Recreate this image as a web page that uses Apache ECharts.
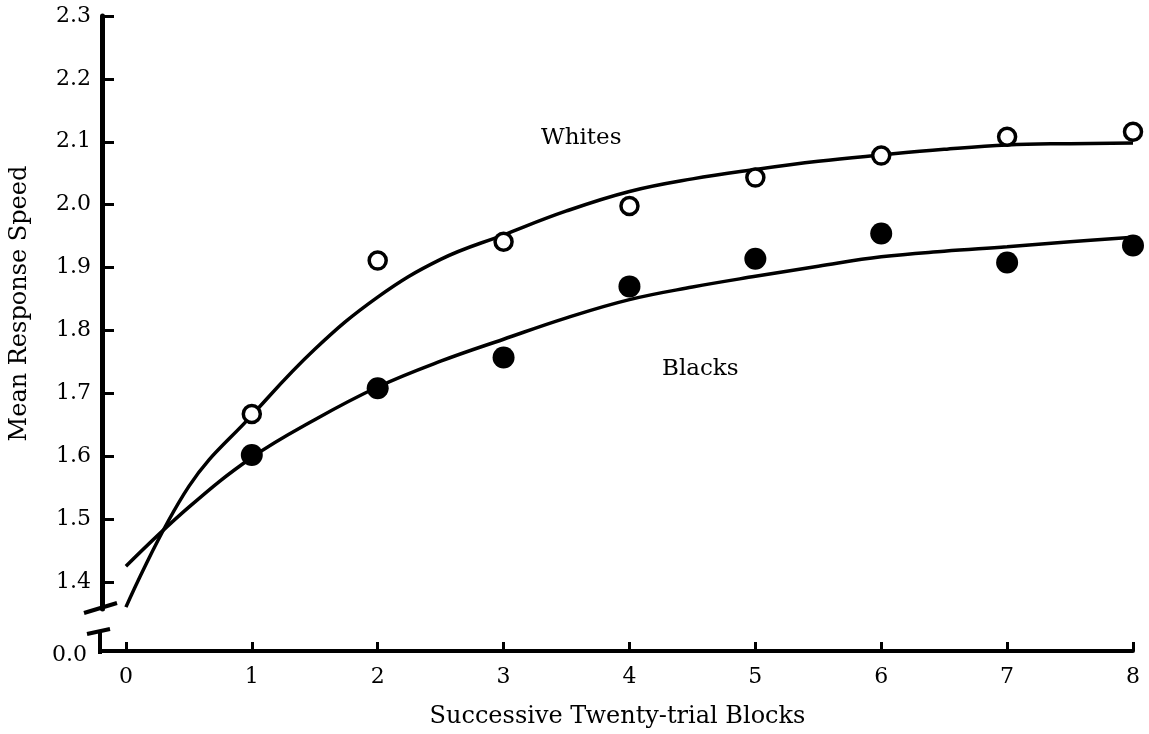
<!DOCTYPE html>
<html>
<head>
<meta charset="utf-8">
<script src="https://cdn.jsdelivr.net/npm/echarts@6/dist/echarts.min.js"></script>
<style>
  html, body { margin: 0; padding: 0; background: #fff; }
  #box { width: 1149px; height: 734px; }
</style>
</head>
<body>
<div id="box"></div>
<script>
// block numbers and observed means
var blocks = [1, 2, 3, 4, 5, 6, 7, 8];
var whitesMeans = [1.667, 1.911, 1.941, 1.998, 2.043, 2.078, 2.108, 2.116];
var blacksMeans = [1.602, 1.708, 1.757, 1.870, 1.914, 1.954, 1.908, 1.935];

// fitted curves, every half block
var curveX = [0, 0.5, 1, 1.5, 2, 2.5, 3, 3.5, 4, 4.5, 5, 5.5, 6, 6.5, 7, 7.5, 8];
var whitesFit = [1.360, 1.552, 1.665, 1.770, 1.853, 1.913, 1.952, 1.990, 2.021, 2.041, 2.056, 2.069, 2.079, 2.088, 2.095, 2.097, 2.098];
var blacksFit = [1.425, 1.519, 1.598, 1.658, 1.710, 1.751, 1.786, 1.820, 1.849, 1.869, 1.886, 1.902, 1.917, 1.926, 1.933, 1.941, 1.948];

// tick labels
var xTicks = [0, 1, 2, 3, 4, 5, 6, 7, 8];
var yTicks = [1.4, 1.5, 1.6, 1.7, 1.8, 1.9, 2.0, 2.1, 2.2, 2.3];

function pairs(xs, ys) {
    return xs.map(function (x, i) { return [x, ys[i]]; });
}

var font = 'DejaVu Serif';
var myChart = echarts.init(document.getElementById('box'));
var option = {
    backgroundColor: '#fff',
    animation: false,
    grid: { left: 102, right: 16, top: 16, bottom: 124 },
    xAxis: {
        type: 'value',
        min: -0.19,
        max: 8,
        offset: 42,
        axisLine: { onZero: false, lineStyle: { color: '#000', width: 4 } },
        axisTick: { inside: true, length: 9, customValues: xTicks, lineStyle: { color: '#000', width: 3 } },
        axisLabel: { customValues: xTicks, margin: 15, color: '#000', fontFamily: font, fontSize: 22 },
        splitLine: { show: false },
        name: 'Successive Twenty-trial Blocks',
        nameLocation: 'middle',
        nameGap: 54,
        nameTextStyle: { color: '#000', fontFamily: font, fontSize: 24 }
    },
    yAxis: {
        type: 'value',
        min: 1.357,
        max: 2.3,
        axisLine: { show: true, onZero: false, lineStyle: { color: '#000', width: 5 } },
        axisTick: { show: true, inside: true, length: 12, customValues: yTicks, lineStyle: { color: '#000', width: 3 } },
        axisLabel: {
            customValues: yTicks, margin: 11, color: '#000', fontFamily: font, fontSize: 22,
            formatter: function (v) { return v.toFixed(1); }
        },
        splitLine: { show: false },
        name: 'Mean Response Speed',
        nameLocation: 'middle',
        nameGap: 70,
        nameTextStyle: { color: '#000', fontFamily: font, fontSize: 24, padding: [0, 0, 0, 18] }
    },
    graphic: [
        { type: 'text', left: 52, top: 644, style: { text: '0.0', fontFamily: font, fontSize: 22, fill: '#000' } },
        { type: 'text', left: 541, top: 127, style: { text: 'Whites', fontFamily: font, fontSize: 23, fill: '#000' } },
        { type: 'text', left: 662, top: 358, style: { text: 'Blacks', fontFamily: font, fontSize: 23, fill: '#000' } },
        // axis break marks
        { type: 'polyline', shape: { points: [[84, 613], [117, 603]] }, style: { stroke: '#000', lineWidth: 4, fill: null } },
        { type: 'polyline', shape: { points: [[87, 634], [110, 629]] }, style: { stroke: '#000', lineWidth: 4, fill: null } },
        { type: 'polyline', shape: { points: [[100, 632], [100, 654]] }, style: { stroke: '#000', lineWidth: 4, fill: null } }
    ],
    series: [
        {
            name: 'Whites fit', type: 'line', smooth: 0.4, symbol: 'none',
            data: pairs(curveX, whitesFit),
            lineStyle: { color: '#000', width: 3.5 }, z: 2
        },
        {
            name: 'Blacks fit', type: 'line', smooth: 0.4, symbol: 'none',
            data: pairs(curveX, blacksFit),
            lineStyle: { color: '#000', width: 3.5 }, z: 2
        },
        {
            name: 'Whites', type: 'scatter', symbol: 'circle', symbolSize: 17,
            data: pairs(blocks, whitesMeans),
            itemStyle: { color: '#fff', borderColor: '#000', borderWidth: 3.5, opacity: 1 }, z: 3
        },
        {
            name: 'Blacks', type: 'scatter', symbol: 'circle', symbolSize: 22,
            data: pairs(blocks, blacksMeans),
            itemStyle: { color: '#000', opacity: 1 }, z: 3
        }
    ]
};
myChart.setOption(option);
</script>
</body>
</html>
